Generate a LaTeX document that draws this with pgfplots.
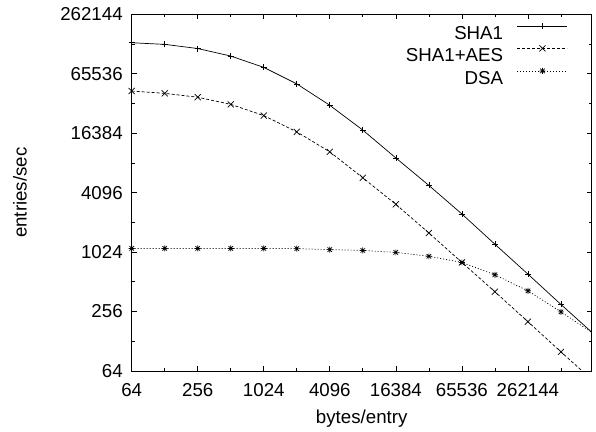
\documentclass[border=0pt]{standalone}
\usepackage{fontspec}
\setmainfont{Liberation Sans}
\usepackage{pgfplots}
\pgfplotsset{compat=1.18}

% gnuplot point type 3: + and x on top of each other
\pgfdeclareplotmark{gpstar}{%
  \pgfpathmoveto{\pgfqpoint{-\pgfplotmarksize}{0pt}}\pgfpathlineto{\pgfqpoint{\pgfplotmarksize}{0pt}}%
  \pgfpathmoveto{\pgfqpoint{0pt}{-\pgfplotmarksize}}\pgfpathlineto{\pgfqpoint{0pt}{\pgfplotmarksize}}%
  \pgfpathmoveto{\pgfqpoint{-.75\pgfplotmarksize}{-.75\pgfplotmarksize}}\pgfpathlineto{\pgfqpoint{.75\pgfplotmarksize}{.75\pgfplotmarksize}}%
  \pgfpathmoveto{\pgfqpoint{-.75\pgfplotmarksize}{.75\pgfplotmarksize}}\pgfpathlineto{\pgfqpoint{.75\pgfplotmarksize}{-.75\pgfplotmarksize}}%
  \pgfusepathqstroke}

\begin{document}
\begin{tikzpicture}[font=\fontsize{18.7bp}{22bp}\selectfont]
% page = 596 x 432, axis box at (0,0)--(460,356.7)
\useasboundingbox (-131.7bp,-61bp) rectangle (464.3bp,371bp);
\begin{axis}[at={(0,0)},anchor=south west,
  scale only axis,width=460bp,height=356.7bp,
  xmode=log,ymode=log,log basis x=2,log basis y=2,
  xmin=64,xmax=1000000,ymin=64,ymax=262144,
  xtick={64,256,1024,4096,16384,65536,262144},
  xticklabels={64,256,1024,4096,16384,65536,262144},
  ytick={64,256,1024,4096,16384,65536,262144},
  yticklabels={64,256,1024,4096,16384,65536,262144},
  minor x tick num=0,minor y tick num=0,
  extra x ticks={128,512,2048,8192,32768,131072,524288},
  extra x tick labels={},
  extra y ticks={128,512,2048,8192,32768,131072},
  extra y tick labels={},
  extra tick style={major tick length=3bp},
  tick pos=both,tick align=inside,
  major tick length=5bp,
  every tick/.style={black,line width=0.7bp},
  axis line style={line width=0.8bp},
  xticklabel style={anchor=base,yshift=-25.7bp},
  yticklabel style={xshift=-5.5bp},
  xlabel={bytes/entry},ylabel={entries/sec},
  xlabel style={at={(axis description cs:0.5,0)},anchor=base,yshift=-52.3bp},
  ylabel style={at={(axis description cs:-0.2428,0.5)},anchor=center},
  legend plot pos=right,legend cell align=right,
  legend style={draw=none,fill=none,at={(rel axis cs:1,1)},anchor=north east,
    xshift=-23.7bp,yshift=-8.4bp,inner sep=0pt,column sep=14bp,row sep=6.1bp,
    nodes={inner sep=0pt,text height=13.4bp,text depth=0pt}},
  every axis plot/.append style={black,line width=0.7bp,mark size=3bp,mark options={solid}},
]
\addplot[mark=+,legend image code/.code={%
    \draw[black,line width=0.7bp] (0bp,6.7bp) -- (50bp,6.7bp);
    \begin{scope}[black,solid,line width=0.7bp,mark size=3bp,shift={(25bp,6.7bp)}]\pgfuseplotmark{+}\end{scope}}]
  coordinates {(64,135000)(128,130000)(256,118000)(512,99000)(1024,76000)(2048,51700)(4096,31400)(8192,17600)(16384,9200)(32768,4850)(65536,2490)(131072,1230)(262144,613)(524288,302)(1048576,151)};
\addlegendentry{SHA1}
\addplot[mark=x,mark size=4.3bp,dash pattern=on 3bp off 2bp,legend image code/.code={%
    \draw[black,line width=0.7bp,dash pattern=on 3bp off 2bp] (0bp,6.7bp) -- (50bp,6.7bp);
    \begin{scope}[black,solid,line width=0.7bp,mark size=4.3bp,shift={(25bp,6.7bp)}]\pgfuseplotmark{x}\end{scope}}]
  coordinates {(64,43800)(128,41500)(256,37900)(512,32100)(1024,24700)(2048,16900)(4096,10600)(8192,5790)(16384,3120)(32768,1600)(65536,805)(131072,406)(262144,202)(524288,100)(1048576,50)};
\addlegendentry{SHA1+AES}
\addplot[mark=gpstar,dash pattern=on 1bp off 2bp,legend image code/.code={%
    \draw[black,line width=0.7bp,dash pattern=on 1bp off 2bp] (0bp,6.7bp) -- (50bp,6.7bp);
    \begin{scope}[black,solid,line width=0.7bp,mark size=3bp,shift={(25bp,6.7bp)}]\pgfuseplotmark{gpstar}\end{scope}}]
  coordinates {(64,1116)(128,1116)(256,1116)(512,1116)(1024,1116)(2048,1110)(4096,1085)(8192,1065)(16384,1017)(32768,929)(65536,805)(131072,603)(262144,415)(524288,254)(1048576,152)};
\addlegendentry{DSA}
\end{axis}
\end{tikzpicture}
\end{document}
